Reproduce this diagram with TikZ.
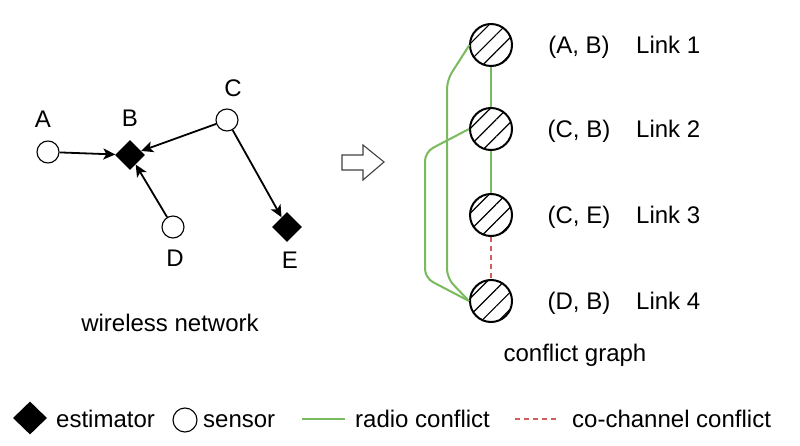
\documentclass[tikz,border=0pt]{standalone}
\usepackage{fontspec}
\setmainfont{Liberation Sans}
\usetikzlibrary{shapes.geometric,arrows.meta,patterns.meta}
\definecolor{radiogreen}{RGB}{122,186,94}
\definecolor{cored}{RGB}{204,96,96}

\begin{document}
\begin{tikzpicture}[x=1pt, y=-1pt,
    sensor/.style={draw, circle, fill=white, minimum size=22pt, inner sep=0pt,
                   line width=1.1pt},
    estim/.style={diamond, fill=black, minimum size=30pt, inner sep=0pt},
    lnk/.style={draw, circle, minimum size=42pt, inner sep=0pt, line width=2pt,
                pattern={Lines[angle=45, distance=12pt, line width=1.2pt]}},
    lbl/.style={font=\fontsize{24}{28}\selectfont, text height=17pt,
                text depth=0pt, inner sep=0pt},
    radio/.style={draw=radiogreen, line width=2pt},
    cochan/.style={draw=cored, line width=1.8pt, dash pattern=on 5pt off 4pt},
    >={Stealth[length=12pt, width=11pt, inset=3pt]}
]
\useasboundingbox (0,0) rectangle (800,446);

% wireless network
\node[sensor] (A) at (48,152) {};
\node[estim]  (B) at (130,155) {};
\node[sensor] (C) at (227,120) {};
\node[sensor] (D) at (173,227) {};
\node[estim]  (E) at (287,227) {};

\node[lbl] (lA) at (43,119) {A};
\node[lbl] (lB) at (130,118) {B};
\node[lbl] (lC) at (233,88) {C};
\node[lbl] (lD) at (175,258) {D};
\node[lbl] (lE) at (290,260) {E};

\draw[->, line width=1.8pt] (A) -- (B);
\draw[->, line width=1.8pt] (C) -- (B);
\draw[->, line width=1.8pt] (D) -- (B);
\draw[->, line width=1.8pt] (C) -- (E);

\node[lbl] (net) at (170,323) {wireless network};

% hollow arrow
\draw[line width=1.1pt, draw=black!75]
    (342,155) -- (363,155) -- (363,145) -- (384,162) -- (363,180)
    -- (363,170) -- (342,170) -- cycle;

% conflict graph
\def\xg{491}
\node[lnk] (L1) at (\xg,45) {};
\node[lnk] (L2) at (\xg,129) {};
\node[lnk] (L3) at (\xg,215) {};
\node[lnk] (L4) at (\xg,301) {};

\draw[radio] (L1) -- (L2);
\draw[radio] (L2) -- (L3);
\draw[cochan] (L3) -- (L4);
\draw[radio, rounded corners=9pt]
    (L1.west) -- (447,80) -- (447,278) -- (L4.west);
\draw[radio, rounded corners=9pt]
    (L2.west) -- (425,152) -- (425,278) -- (L4.west);

\node[lbl] (p1) at (579,45) {(A, B)};
\node[lbl] (p2) at (579,129) {(C, B)};
\node[lbl] (p3) at (579,215) {(C, E)};
\node[lbl] (p4) at (579,301) {(D, B)};
\foreach \i/\y in {1/45,2/129,3/215,4/301}{
    \node[lbl, anchor=west] (k\i) at (636,\y) {Link \i};
}

\node[lbl] (cg) at (575,353) {conflict graph};

% legend
\node[estim, minimum width=34pt, minimum height=33pt] (legE) at (30,418) {};
\node[lbl, anchor=west] (tE) at (56,419) {estimator};
\node[sensor, minimum size=24pt] (legS) at (185,420) {};
\node[lbl, anchor=west] (tS) at (203,419) {sensor};
\coordinate (r1) at (302,419);
\coordinate (r2) at (345,419);
\draw[radio] (r1) -- (r2);
\node[lbl, anchor=west] (tR) at (355,419) {radio conflict};
\coordinate (c1) at (515,419);
\coordinate (c2) at (558,419);
\draw[cochan] (c1) -- (c2);
\node[lbl, anchor=west] (tC) at (572,419) {co-channel conflict};

\end{tikzpicture}
\end{document}
